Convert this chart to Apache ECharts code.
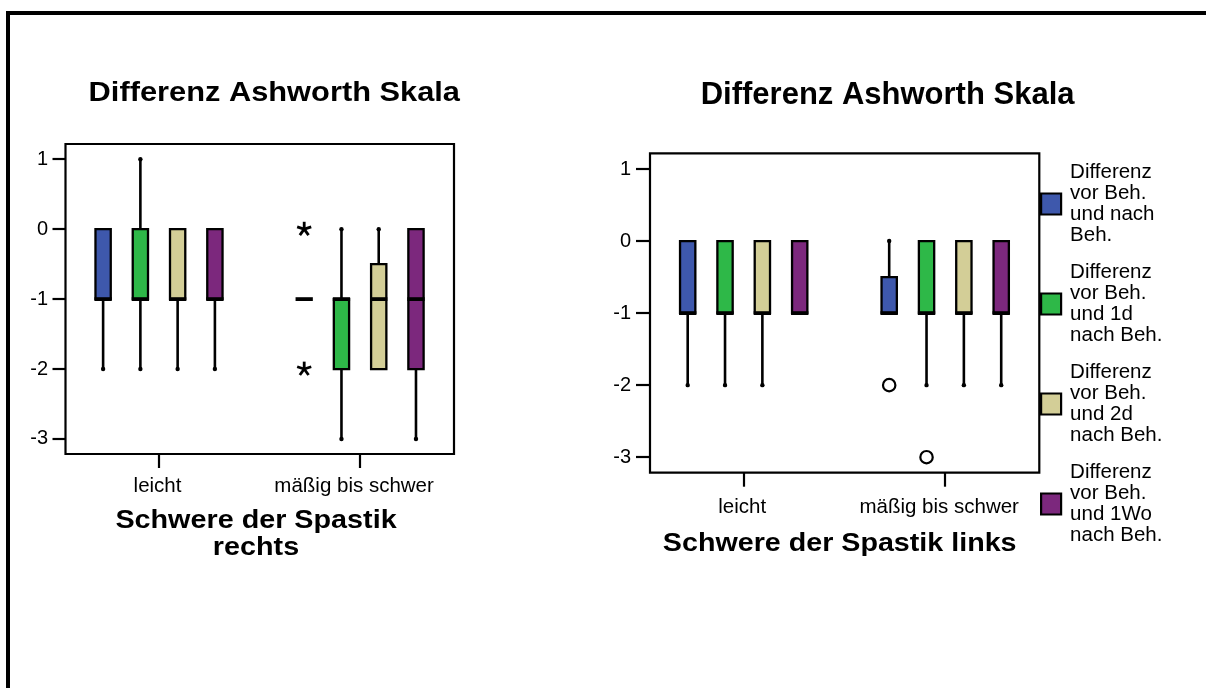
<!DOCTYPE html>
<html>
<head>
<meta charset="utf-8">
<script src="https://cdn.jsdelivr.net/npm/echarts@6/dist/echarts.min.js"></script>
<style>
html,body{margin:0;padding:0;background:#fff;}
#c{width:1206px;height:688px;}
</style>
</head>
<body>
<div id="c"></div>
<script>
// ---------- data ----------
const categories = ['leicht', 'mäßig bis schwer'];
const seriesNames = [
  'Differenz\nvor Beh.\nund nach\nBeh.',
  'Differenz\nvor Beh.\nund 1d\nnach Beh.',
  'Differenz\nvor Beh.\nund 2d\nnach Beh.',
  'Differenz\nvor Beh.\nund 1Wo\nnach Beh.'
];
const colors = ['#3e58ac', '#2eb848', '#d3ce97', '#7c287d'];
const yTicks = [-3, -2, -1, 0, 1];
const xTicks = [1, 2];

// box statistics per category: [lower whisker, Q1, median, Q3, upper whisker]
// Schwere der Spastik rechts
const rechtsNachBeh = [[-2, -1, -1, 0, 0], [-1, -1, -1, -1, -1]];
const rechts1d      = [[-2, -1, -1, 0, 1], [-3, -2, -1, -1, 0]];
const rechts2d      = [[-2, -1, -1, 0, 0], [-2, -2, -1, -0.5, 0]];
const rechts1Wo     = [[-2, -1, -1, 0, 0], [-3, -2, -1, 0, 0]];
// Schwere der Spastik links
const linksNachBeh  = [[-2, -1, -1, 0, 0], [-1, -1, -1, -0.5, 0]];
const links1d       = [[-2, -1, -1, 0, 0], [-2, -1, -1, 0, 0]];
const links2d       = [[-2, -1, -1, 0, 0], [-2, -1, -1, 0, 0]];
const links1Wo      = [[-1, -1, -1, 0, 0], [-2, -1, -1, 0, 0]];

// outliers: [category index, series index, value]
const rechtsExtremwerte = [[1, 0, 0], [1, 0, -2]];   // drawn as *
const linksAusreisser   = [[1, 0, -2], [1, 1, -3]];  // drawn as o

// ---------- layout / style ----------
const FONT = '"Liberation Sans", Arial, Helvetica, sans-serif';
const BOX_STEP = 0.1853;   // distance between boxes (in category units)
const BOX_W = 0.076;       // box width (in category units)
const X_MIN = 0.535, X_MAX = 2.467;
const Y_MIN = -3.215, Y_MAX = 1.218;

function toItems(stats) {
  return stats.map((s, i) => [i + 1].concat(s));
}

function boxRenderer(k) {
  return function (params, api) {
    const x = api.value(0);
    const unit = api.size([1, 0])[0];
    const cx = api.coord([x, 0])[0] + (k - 1.5) * unit * BOX_STEP;
    const w = unit * BOX_W;
    const yl = api.coord([x, api.value(1)])[1];
    const y1 = api.coord([x, api.value(2)])[1];
    const ym = api.coord([x, api.value(3)])[1];
    const y3 = api.coord([x, api.value(4)])[1];
    const yh = api.coord([x, api.value(5)])[1];
    const color = api.visual('color');
    const ch = [];
    const ws = { stroke: '#000', lineWidth: 2.6 };
    if (yl - y1 > 0.5) {
      ch.push({ type: 'line', shape: { x1: cx, y1: y1, x2: cx, y2: yl }, style: ws });
      ch.push({ type: 'circle', shape: { cx: cx, cy: yl, r: 2.2 }, style: { fill: '#000' } });
    }
    if (y3 - yh > 0.5) {
      ch.push({ type: 'line', shape: { x1: cx, y1: y3, x2: cx, y2: yh }, style: ws });
      ch.push({ type: 'circle', shape: { cx: cx, cy: yh, r: 2.2 }, style: { fill: '#000' } });
    }
    ch.push({ type: 'rect', shape: { x: cx - w / 2, y: y3, width: w, height: y1 - y3 },
      style: { fill: color, stroke: '#000', lineWidth: 2.3 } });
    ch.push({ type: 'line', shape: { x1: cx - w / 2 - 1, y1: ym, x2: cx + w / 2 + 1, y2: ym },
      style: { stroke: '#000', lineWidth: 3.8 } });
    return { type: 'group', children: ch };
  };
}

function outlierRenderer(kind) {
  return function (params, api) {
    const x = api.value(0);
    const k = api.value(1);
    const unit = api.size([1, 0])[0];
    const pt = api.coord([x, api.value(2)]);
    const cx = pt[0] + (k - 1.5) * unit * BOX_STEP;
    const cy = pt[1];
    if (kind === 'circle') {
      return { type: 'circle', shape: { cx: cx, cy: cy, r: 6.2 },
        style: { fill: '#fff', stroke: '#000', lineWidth: 2.2 } };
    }
    // asterisk with five arms
    const L = 7.4;
    const arms = [];
    for (let a = 0; a < 5; a++) {
      const ang = -Math.PI / 2 + a * 2 * Math.PI / 5;
      arms.push({ type: 'line', shape: { x1: cx, y1: cy, x2: cx + L * Math.cos(ang), y2: cy + L * Math.sin(ang) },
        style: { stroke: '#000', lineWidth: 2.8, lineCap: 'butt' } });
    }
    return { type: 'group', children: arms };
  };
}

function xAxisCfg(gridIndex, margin) {
  return {
    type: 'value', gridIndex: gridIndex, min: X_MIN, max: X_MAX, position: 'bottom',
    axisLine: { show: false, onZero: false },
    splitLine: { show: false },
    axisTick: { show: true, customValues: xTicks, length: 14, lineStyle: { color: '#000', width: 2.2 } },
    axisLabel: {
      customValues: xTicks, margin: margin, color: '#000', fontSize: 20.5, fontFamily: FONT,
      formatter: v => (v === 1 ? '{a|' + categories[0] + '}' : '{b|' + categories[1] + '}'),
      rich: {
        a: { fontSize: 20.5, fontFamily: FONT, color: '#000', padding: [0, 3, 0, 0] },
        b: { fontSize: 20.5, fontFamily: FONT, color: '#000', padding: [0, 12, 0, 0] }
      }
    }
  };
}

function yAxisCfg(gridIndex, margin, tickLen) {
  return {
    type: 'value', gridIndex: gridIndex, min: Y_MIN, max: Y_MAX, position: 'left',
    axisLine: { show: false, onZero: false },
    splitLine: { show: false },
    axisTick: { show: true, customValues: yTicks, length: tickLen, lineStyle: { color: '#000', width: 2.2 } },
    axisLabel: { customValues: yTicks, margin: margin, color: '#000', fontSize: 20, fontFamily: FONT }
  };
}

const rechtsStats = [rechtsNachBeh, rechts1d, rechts2d, rechts1Wo];
const linksStats = [linksNachBeh, links1d, links2d, links1Wo];

const series = [];
[rechtsStats, linksStats].forEach((group, g) => {
  group.forEach((stats, k) => {
    series.push({
      type: 'custom', name: seriesNames[k],
      xAxisIndex: g, yAxisIndex: g,
      itemStyle: { color: colors[k] },
      encode: { x: 0, y: [1, 2, 3, 4, 5] },
      renderItem: boxRenderer(k),
      data: toItems(stats),
      z: 2
    });
  });
});
series.push({
  type: 'custom', name: 'Extremwerte', xAxisIndex: 0, yAxisIndex: 0,
  encode: { x: 0, y: 2 },
  renderItem: outlierRenderer('star'),
  data: rechtsExtremwerte.map(d => [d[0] + 1, d[1], d[2]]), z: 3
});
series.push({
  type: 'custom', name: 'Ausreißer', xAxisIndex: 1, yAxisIndex: 1,
  encode: { x: 0, y: 2 },
  renderItem: outlierRenderer('circle'),
  data: linksAusreisser.map(d => [d[0] + 1, d[1], d[2]]), z: 3
});

const option = {
  animation: false,
  backgroundColor: '#fff',
  grid: [
    { left: 65.5, top: 144, width: 388.5, height: 310, show: true, borderColor: '#000', borderWidth: 2.2, backgroundColor: 'transparent' },
    { left: 650, top: 153.3, width: 389.3, height: 319.4, show: true, borderColor: '#000', borderWidth: 2.2, backgroundColor: 'transparent' }
  ],
  xAxis: [xAxisCfg(0, 22), xAxisCfg(1, 24)],
  yAxis: [yAxisCfg(0, 17.5, 13), yAxisCfg(1, 19, 14)],
  legend: {
    data: seriesNames, orient: 'vertical', left: 1040, top: 162, padding: 0,
    itemWidth: 20, itemHeight: 21, itemGap: 16, icon: 'rect', selectedMode: false,
    itemStyle: { borderColor: '#000', borderWidth: 2.2 },
    textStyle: { fontSize: 20.5, lineHeight: 21, color: '#000', fontFamily: FONT, padding: [0, 0, 0, 4] }
  },
  graphic: [
    { type: 'rect', silent: true, z: 100, shape: { x: 8, y: 13, width: 1400, height: 900 },
      style: { fill: 'none', stroke: '#000', lineWidth: 4 } },
    { type: 'text', x: 274.3, y: 93.3, scaleX: 1.10,
      style: { text: 'Differenz Ashworth Skala', font: 'bold 28px ' + FONT, fill: '#000', align: 'center', verticalAlign: 'middle' } },
    { type: 'text', x: 887.6, y: 95.3, scaleX: 1.0,
      style: { text: 'Differenz Ashworth Skala', font: 'bold 31px ' + FONT, fill: '#000', align: 'center', verticalAlign: 'middle' } },
    { type: 'text', x: 256, y: 534.4, scaleX: 1.15,
      style: { text: 'Schwere der Spastik\nrechts', font: 'bold 25px ' + FONT, lineHeight: 26.7, fill: '#000', align: 'center', verticalAlign: 'middle' } },
    { type: 'text', x: 839.7, y: 544.2, scaleX: 1.12,
      style: { text: 'Schwere der Spastik links', font: 'bold 25.6px ' + FONT, fill: '#000', align: 'center', verticalAlign: 'middle' } }
  ],
  series: series
};

const chart = echarts.init(document.getElementById('c'), null, { renderer: 'canvas' });
chart.setOption(option);
</script>
</body>
</html>
